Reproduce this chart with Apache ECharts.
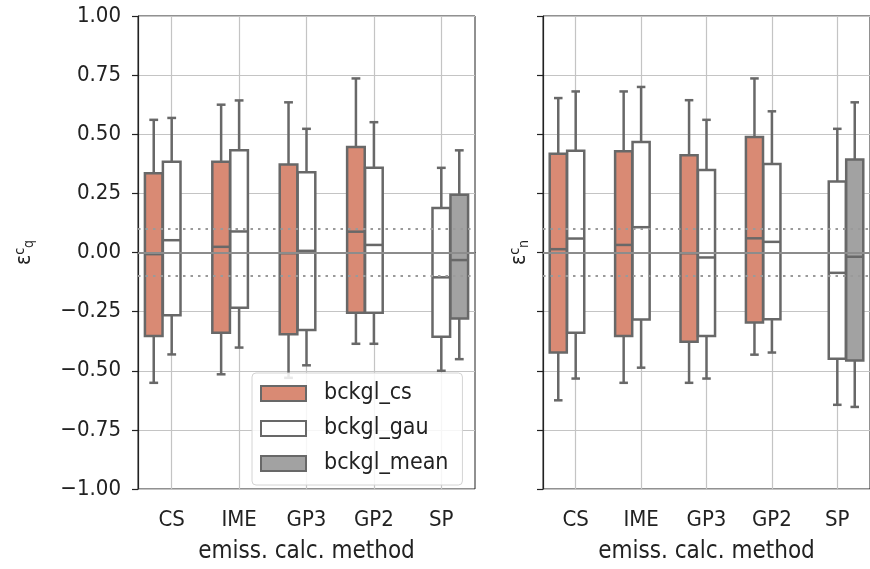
<!DOCTYPE html>
<html>
<head>
<meta charset="utf-8">
<script src="https://cdn.jsdelivr.net/npm/echarts@6/dist/echarts.min.js"></script>
<style>html,body{margin:0;padding:0;background:#fff}#c{width:870px;height:569px}</style>
</head>
<body>
<div id="c"></div>
<script>
// ---------- data ----------
const categories = ['CS', 'IME', 'GP3', 'GP2', 'SP'];
const seriesNames = ['bckgl_cs', 'bckgl_gau', 'bckgl_mean'];
const xAxisName = 'emiss. calc. method';
const refLines = [0, 0.1, -0.1];

// each entry: [whisker low, Q1, median, Q3, whisker high]; null = no box
// left panel (epsilon_q)
const csQ = [
  [-0.551, -0.353, -0.007, 0.335, 0.561],
  [-0.515, -0.339, 0.024, 0.384, 0.625],
  [-0.530, -0.346, -0.003, 0.372, 0.635],
  [-0.386, -0.255, 0.088, 0.446, 0.736],
  null
];
const gauQ = [
  [-0.431, -0.265, 0.052, 0.384, 0.569],
  [-0.402, -0.234, 0.089, 0.432, 0.643],
  [-0.477, -0.328, 0.007, 0.339, 0.523],
  [-0.386, -0.255, 0.032, 0.358, 0.551],
  [-0.500, -0.356, -0.105, 0.188, 0.358]
];
const meanQ = [null, null, null, null, [-0.451, -0.279, -0.032, 0.244, 0.432]];

// right panel (epsilon_n)
const csN = [
  [-0.625, -0.423, 0.014, 0.418, 0.653],
  [-0.551, -0.353, 0.032, 0.428, 0.681],
  [-0.551, -0.377, -0.003, 0.411, 0.644],
  [-0.432, -0.296, 0.060, 0.488, 0.736],
  null
];
const gauN = [
  [-0.533, -0.339, 0.059, 0.430, 0.681],
  [-0.487, -0.283, 0.107, 0.467, 0.700],
  [-0.533, -0.353, -0.021, 0.349, 0.561],
  [-0.423, -0.282, 0.045, 0.374, 0.597],
  [-0.644, -0.449, -0.086, 0.300, 0.523]
];
const meanN = [null, null, null, null, [-0.653, -0.457, -0.018, 0.393, 0.635]];

// ---------- styles ----------
const FONT = '"DejaVu Sans Condensed", "DejaVu Sans", sans-serif';
const TXT = '#222';
const fills = ['#d98a74', '#ffffff', '#a2a2a2'];
const EDGE = '#686868';
const LW = 2.5;
const hueOffset = [-0.8 / 3, 0, 0.8 / 3];

function toRows(arr) {
  const out = [];
  arr.forEach((v, i) => { if (v) out.push([i].concat(v)); });
  return out;
}

function makeRender(hue) {
  return function (params, api) {
    const x = api.value(0);
    const bw = api.size([1, 0])[0];
    const c = api.coord([x, api.value(3)]);
    const cx = c[0] + hueOffset[hue] * bw;
    const w = bw * 0.8 / 3 * 0.98;
    const yLo = api.coord([x, api.value(1)])[1];
    const yQ1 = api.coord([x, api.value(2)])[1];
    const yMed = c[1];
    const yQ3 = api.coord([x, api.value(4)])[1];
    const yHi = api.coord([x, api.value(5)])[1];
    const ls = { stroke: EDGE, lineWidth: LW, fill: null };
    const capW = w / 2;
    return {
      type: 'group',
      children: [
        { type: 'line', shape: { x1: cx, y1: yQ3, x2: cx, y2: yHi }, style: ls },
        { type: 'line', shape: { x1: cx, y1: yQ1, x2: cx, y2: yLo }, style: ls },
        { type: 'rect', shape: { x: cx - w / 2, y: yQ3, width: w, height: yQ1 - yQ3 },
          style: { fill: fills[hue], stroke: EDGE, lineWidth: LW } },
        { type: 'line', shape: { x1: cx - w / 2, y1: yMed, x2: cx + w / 2, y2: yMed }, style: ls },
        { type: 'line', shape: { x1: cx - capW / 2, y1: yHi, x2: cx + capW / 2, y2: yHi }, style: ls },
        { type: 'line', shape: { x1: cx - capW / 2, y1: yLo, x2: cx + capW / 2, y2: yLo }, style: ls }
      ]
    };
  };
}

const panels = [[csQ, gauQ, meanQ], [csN, gauN, meanN]];
const series = [];
panels.forEach((p, gi) => {
  p.forEach((arr, hue) => {
    series.push({
      type: 'custom',
      name: seriesNames[hue],
      xAxisIndex: gi,
      yAxisIndex: gi,
      renderItem: makeRender(hue),
      encode: { x: 0, y: [1, 2, 3, 4, 5] },
      itemStyle: { color: fills[hue], borderColor: EDGE },
      data: toRows(arr),
      z: 2
    });
  });
  series.push({
    type: 'line',
    xAxisIndex: gi,
    yAxisIndex: gi,
    data: [],
    silent: true,
    z: 5,
    markLine: {
      silent: true,
      symbol: 'none',
      label: { show: false },
      animation: false,
      data: refLines.map(v => ({
        yAxis: v,
        lineStyle: v === 0
          ? { color: '#8c8c8c', width: 2.2, type: 'solid' }
          : { color: '#9a9a9a', width: 2.2, type: [2.5, 5] }
      }))
    }
  });
});

function yFmt(v) {
  return (v < 0 ? '\u2212' : '') + Math.abs(v).toFixed(2);
}

const gridCommon = { top: 16, height: 478, width: 337, show: true, borderColor: '#222', borderWidth: 1, containLabel: false };

function xAxisCfg(gi) {
  return {
    type: 'category', gridIndex: gi, data: categories, boundaryGap: true,
    axisLine: { show: true, lineStyle: { color: '#222', width: 1.2 } },
    axisTick: { show: true, alignWithLabel: true, length: 6, lineStyle: { color: '#222', width: 1.2 } },
    axisLabel: { show: true, margin: 20, fontFamily: FONT, fontSize: 22, color: TXT },
    splitLine: { show: true, alignWithLabel: true, lineStyle: { color: '#c4c4c4', width: 1.2 } },
    name: xAxisName, nameLocation: 'middle', nameGap: 51,
    nameTextStyle: { fontFamily: FONT, fontSize: 24, color: TXT }
  };
}

function yAxisCfg(gi, sub) {
  return {
    type: 'value', gridIndex: gi, min: -1, max: 1, interval: 0.25,
    axisLine: { show: true, onZero: false, lineStyle: { color: '#222', width: 1.2 } },
    axisTick: { show: true, length: 6, lineStyle: { color: '#222', width: 1.2 } },
    axisLabel: { show: gi === 0, margin: 17, fontFamily: FONT, fontSize: 22, color: TXT, formatter: yFmt },
    splitLine: { show: true, lineStyle: { color: '#c4c4c4', width: 1.2 } },
    name: '{e|\u03b5}{s|c}{b|' + sub + '}',
    nameLocation: 'middle', nameRotate: 90, nameGap: gi === 0 ? 102 : 12,
    nameTextStyle: {
      color: TXT, fontFamily: FONT,
      rich: {
        e: { fontFamily: FONT, fontSize: 21, color: TXT },
        s: { fontFamily: FONT, fontSize: 14, color: TXT, verticalAlign: 'top', padding: [0, 0, 9, 0] },
        b: { fontFamily: FONT, fontSize: 14, color: TXT, verticalAlign: 'bottom', padding: [9, 0, 0, 0] }
      }
    }
  };
}

const option = {
  animation: false,
  backgroundColor: '#fff',
  grid: [
    Object.assign({ left: 138 }, gridCommon),
    Object.assign({ left: 543 }, gridCommon)
  ],
  xAxis: [xAxisCfg(0), xAxisCfg(1)],
  yAxis: [yAxisCfg(0, 'q'), yAxisCfg(1, 'n')],
  legend: {
    orient: 'vertical', left: 252, top: 373,
    padding: [9, 14, 10, 8],
    itemWidth: 45, itemHeight: 15, itemGap: 12,
    backgroundColor: 'rgba(255,255,255,0.85)',
    borderColor: '#d4d4d4', borderWidth: 1, borderRadius: 4,
    textStyle: { fontFamily: FONT, fontSize: 23, color: TXT, padding: [0, 0, 0, 13] },
    selectedMode: false,
    data: seriesNames.map((n, i) => ({
      name: n, icon: 'rect',
      itemStyle: { color: fills[i], borderColor: EDGE, borderWidth: 2 }
    }))
  },
  series: series
};

const chart = echarts.init(document.getElementById('c'), null, { renderer: 'canvas' });
chart.setOption(option);
</script>
</body>
</html>
